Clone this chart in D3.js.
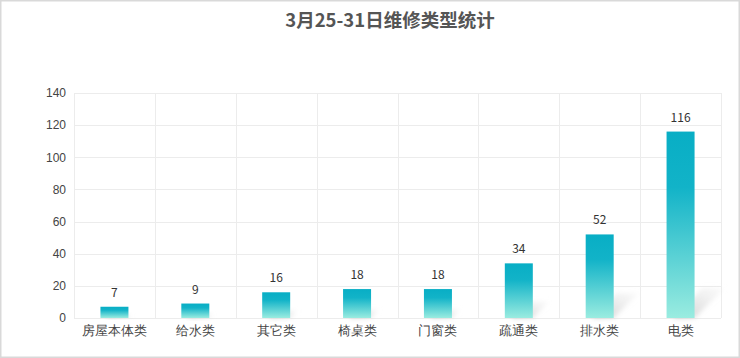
<!DOCTYPE html>
<html>
<head>
<meta charset="utf-8">
<script src="https://cdn.jsdelivr.net/npm/d3@7/dist/d3.min.js"></script>
<style>
body { margin: 0; background: #fff; }
svg { display: block; font-family: "Noto Sans CJK SC", "Noto Sans", sans-serif; }
</style>
</head>
<body>
<script>
var categories = ['房屋本体类', '给水类', '其它类', '椅桌类', '门窗类', '疏通类', '排水类', '电类']
var counts = [7, 9, 16, 18, 18, 34, 52, 116]
var yTicks = [0, 20, 40, 60, 80, 100, 120, 140]

var W = 740, H = 358
var margin = { left: 74, right: 19, top: 93, bottom: 40 }

var svg = d3.select('body').append('svg')
	.attr('width', W)
	.attr('height', H)

// outer frame
svg.append('rect')
	.attr('x', 0.75).attr('y', 0.75)
	.attr('width', W - 1.5).attr('height', H - 1.5)
	.style('fill', '#fff')
	.style('stroke', '#d9d9d9')
	.style('stroke-width', 1.5)

var defs = svg.append('defs')
var grad = defs.append('linearGradient')
	.attr('id', 'barGrad')
	.attr('x1', 0).attr('y1', 0).attr('x2', 0).attr('y2', 1)
grad.append('stop').attr('offset', '0').attr('stop-color', '#08aec5')
grad.append('stop').attr('offset', '0.3').attr('stop-color', '#12b3c8')
grad.append('stop').attr('offset', '1').attr('stop-color', '#9aece0')

var shGrad = defs.append('linearGradient')
	.attr('id', 'shadowGrad')
	.attr('x1', 0).attr('y1', 1).attr('x2', 1).attr('y2', 0)
shGrad.append('stop').attr('offset', '0').attr('stop-color', '#c4c4c4').attr('stop-opacity', 0.85)
shGrad.append('stop').attr('offset', '1').attr('stop-color', '#e8e8e8').attr('stop-opacity', 0.2)
defs.append('filter').attr('id', 'blur')
	.attr('x', '-50%').attr('y', '-50%').attr('width', '200%').attr('height', '200%')
	.append('feGaussianBlur').attr('stdDeviation', 2.5)

var x = d3.scaleBand()
	.domain(categories)
	.range([margin.left, W - margin.right])

var y = d3.scaleLinear()
	.domain([0, 140])
	.range([H - margin.bottom, margin.top])

// grid
var grid = svg.append('g')
grid.selectAll('.hgrid').data(yTicks).enter().append('line')
	.attr('x1', margin.left).attr('x2', W - margin.right)
	.attr('y1', function(d){ return Math.round(y(d)) + 0.5 })
	.attr('y2', function(d){ return Math.round(y(d)) + 0.5 })
	.style('stroke', '#ececec')
var vlines = categories.map(function(c){ return x(c) }).concat([W - margin.right])
grid.selectAll('.vgrid').data(vlines).enter().append('line')
	.attr('x1', function(d){ return Math.round(d) + 0.5 })
	.attr('x2', function(d){ return Math.round(d) + 0.5 })
	.attr('y1', margin.top).attr('y2', H - margin.bottom)
	.style('stroke', '#ececec')

// axes
var yAxis = svg.append('g')
	.attr('transform', 'translate(' + (margin.left - 8) + ',0)')
	.call(d3.axisLeft(y).tickValues(yTicks).tickSize(0).tickPadding(0))
yAxis.select('.domain').remove()
yAxis.selectAll('text').style('font-size', '12px').style('fill', '#444')

var xAxis = svg.append('g')
	.attr('transform', 'translate(0,' + (H - margin.bottom) + ')')
	.call(d3.axisBottom(x).tickSize(0).tickPadding(8))
xAxis.select('.domain').remove()
xAxis.selectAll('text').style('font-size', '12.5px').style('fill', '#444')

var bw = 28

// shadows
svg.selectAll('.shadow').data(counts).enter().append('polygon')
	.attr('points', function(d, i){
		var cx = x(categories[i]) + x.bandwidth() / 2
		var yb = y(0)
		var h = yb - y(d)
		var L = Math.min(30, h * 0.3)
		var x0 = cx - bw / 2 + 6, x1 = cx + bw / 2
		return [[x0, yb], [x1, yb], [x1 + L, yb - L], [x0 + L, yb - L]].join(' ')
	})
	.style('fill', 'url(#shadowGrad)')
	.attr('filter', 'url(#blur)')

svg.selectAll('.bar').data(counts).enter().append('rect')
	.attr('class', 'bar')
	.attr('x', function(d, i){ return x(categories[i]) + x.bandwidth() / 2 - bw / 2 })
	.attr('y', function(d){ return y(d) })
	.attr('width', bw)
	.attr('height', function(d){ return y(0) - y(d) })
	.style('fill', 'url(#barGrad)')

svg.selectAll('.val').data(counts).enter().append('text')
	.attr('x', function(d, i){ return x(categories[i]) + x.bandwidth() / 2 })
	.attr('y', function(d){ return y(d) - 10 })
	.attr('text-anchor', 'middle')
	.style('font-size', '12px')
	.style('fill', '#333')
	.text(function(d){ return d })

svg.append('text')
	.attr('x', 390).attr('y', 27)
	.attr('text-anchor', 'middle')
	.style('font-size', '18.5px')
	.style('font-weight', 'bold')
	.style('fill', '#555')
	.text('3月25-31日维修类型统计')
</script>
</body>
</html>
